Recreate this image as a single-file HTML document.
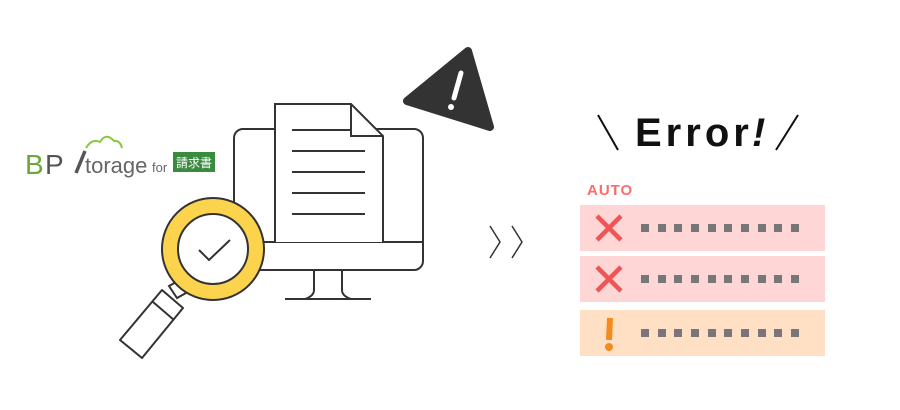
<!DOCTYPE html>
<html><head><meta charset="utf-8"><style>
html,body{margin:0;padding:0;background:#fff;}
body{width:900px;height:410px;overflow:hidden;position:relative;font-family:"Liberation Sans","Noto Sans CJK JP",sans-serif;}
</style></head><body>
<svg width="900" height="410" viewBox="0 0 900 410" style="position:absolute;left:0;top:0">
<!-- logo -->
<text x="25" y="174" font-size="28" fill="#6aa839" font-family="Liberation Sans, sans-serif">B</text>
<text x="45" y="174" font-size="28" fill="#555" font-family="Liberation Sans, sans-serif">P</text>
<path d="M76 173 L85 151" stroke="#555" stroke-width="3.5"/>
<path d="M86 148 Q92 138 100 142 Q106 132 114 141 Q120 140 122 148" stroke="#8cc63f" stroke-width="2" fill="none"/>
<text x="85" y="173" font-size="22" fill="#666">torage</text>
<text x="152" y="172" font-size="13" fill="#666">for</text>
<rect x="173" y="152" width="42" height="20" fill="#3a8a3f"/>
<text x="194" y="167" font-size="12" fill="#fff" text-anchor="middle" font-family="Noto Sans CJK JP, sans-serif">請求書</text>
<!-- monitor -->
<rect x="234" y="129" width="189" height="141" rx="9" fill="#fff" stroke="#333" stroke-width="2"/>
<line x1="234" y1="242" x2="423" y2="242" stroke="#333" stroke-width="2"/>
<path d="M314 270 V290 Q314 296 305 299 M342 270 V290 Q342 296 351 299" stroke="#333" stroke-width="2" fill="none"/>
<line x1="285" y1="299" x2="371" y2="299" stroke="#333" stroke-width="2"/>
<!-- document -->
<path d="M275 242 V104 H351 L383 136 V242" fill="#fff" stroke="#333" stroke-width="2"/>
<path d="M351 104 V136 H383" fill="none" stroke="#333" stroke-width="2"/>
<g stroke="#333" stroke-width="2">
<line x1="292" y1="130" x2="351" y2="130"/><line x1="292" y1="151" x2="365" y2="151"/>
<line x1="292" y1="172" x2="365" y2="172"/><line x1="292" y1="193" x2="365" y2="193"/>
<line x1="292" y1="214" x2="365" y2="214"/></g>
<!-- magnifier -->
<polygon points="169,286 178,281 186,293 177,298" fill="#fff" stroke="#333" stroke-width="2"/>
<polygon points="162,290 183,308 142,358 120,340" fill="#fff" stroke="#333" stroke-width="2" stroke-linejoin="round"/>
<line x1="153" y1="302" x2="174" y2="320" stroke="#333" stroke-width="2"/>
<circle cx="213" cy="249" r="51" fill="#fcd34d" stroke="#333" stroke-width="2"/>
<circle cx="213" cy="249" r="35" fill="#fff" stroke="#333" stroke-width="2"/>
<path d="M199 250 L209 260 L230 240" stroke="#333" stroke-width="2" fill="none"/>
<!-- warning -->
<polygon points="407,101 468,51 490,127" fill="#333" stroke="#333" stroke-width="8" stroke-linejoin="round"/>
<path d="M461 73 L454 98" stroke="#fff" stroke-width="5" stroke-linecap="round"/>
<circle cx="451" cy="107" r="3" fill="#fff"/>
<!-- chevrons -->
<path d="M490 226 L500 242 L490 258 M512 226 L522 242 L512 258" stroke="#333" stroke-width="1.5" fill="none"/>
<!-- Error -->
<path d="M598 115 L618 150 M798 115 L776 150" stroke="#111" stroke-width="2"/>
<text x="635" y="146" font-size="40" font-weight="bold" fill="#111" letter-spacing="4">Error</text>
<text x="752" y="146" font-size="40" font-weight="bold" font-style="italic" fill="#111">!</text>
<text x="587" y="195" font-size="15" font-weight="bold" fill="#ff6b6b" letter-spacing="1">AUTO</text>
<rect x="580" y="205" width="245" height="46" fill="#ffd6d6"/>
<rect x="580" y="256" width="245" height="46" fill="#ffd6d6"/>
<rect x="580" y="310" width="245" height="46" fill="#ffe0c4"/>
<path d="M597 216 L621 240 M621 216 L597 240 M597 267 L621 291 M621 267 L597 291" stroke="#f05454" stroke-width="4.5"/>
<path d="M610 318 L609 340" stroke="#f58a1f" stroke-width="6"/>
<circle cx="609" cy="347" r="4" fill="#f58a1f"/>
<g fill="#777">
<g id="sq"><rect x="641" y="224" width="8" height="8"/><rect x="658" y="224" width="8" height="8"/><rect x="674" y="224" width="8" height="8"/><rect x="691" y="224" width="8" height="8"/><rect x="708" y="224" width="8" height="8"/><rect x="724" y="224" width="8" height="8"/><rect x="741" y="224" width="8" height="8"/><rect x="758" y="224" width="8" height="8"/><rect x="774" y="224" width="8" height="8"/><rect x="791" y="224" width="8" height="8"/></g>
<use href="#sq" y="51"/><use href="#sq" y="105"/>
</g>
</svg>
</body></html>
